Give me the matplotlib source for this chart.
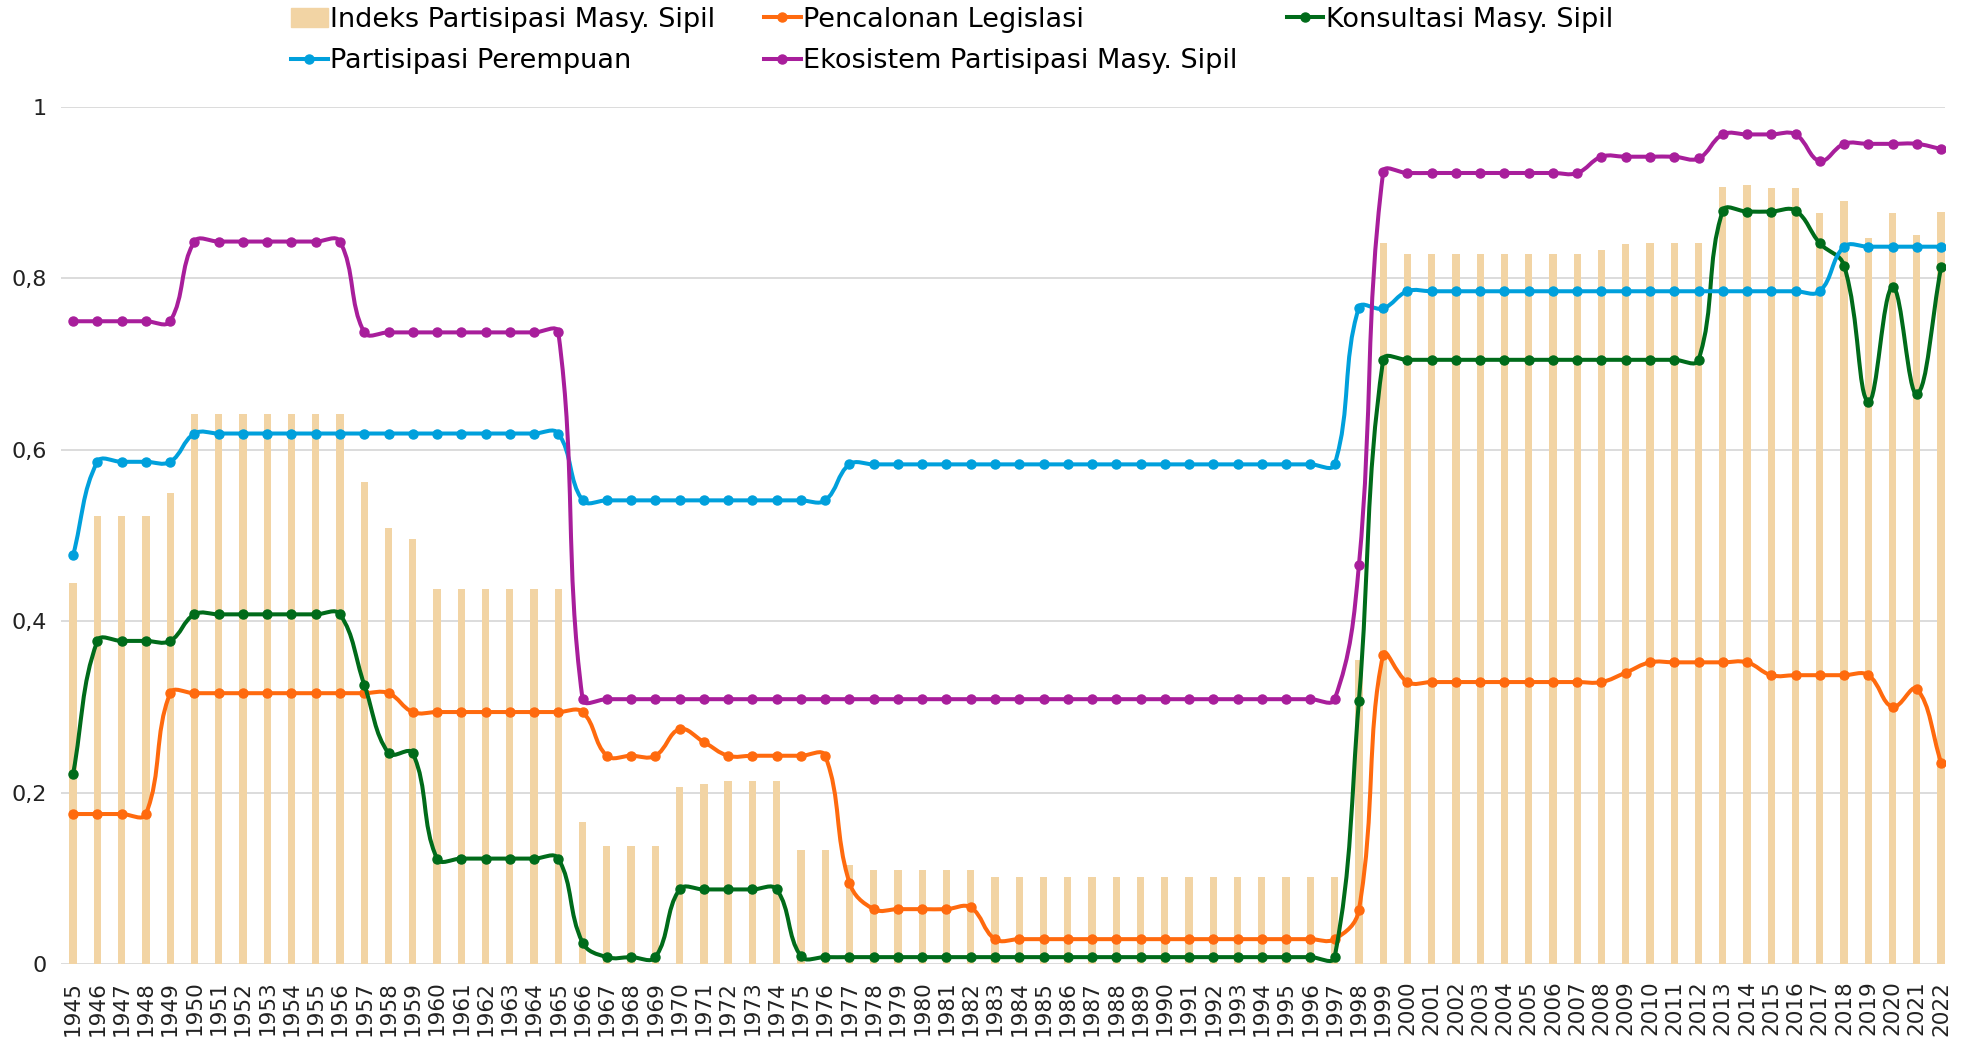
import numpy as np
import matplotlib
matplotlib.use("Agg")
import matplotlib.pyplot as plt
from matplotlib.path import Path
from matplotlib.patches import PathPatch
from matplotlib.lines import Line2D
from matplotlib.patches import Patch

years = list(range(1945, 2023))

indeks = [0.445, 0.523, 0.523, 0.523, 0.550,
          0.642, 0.642, 0.642, 0.642, 0.642, 0.642, 0.642, 0.563, 0.509, 0.496,
          0.438, 0.438, 0.438, 0.438, 0.438, 0.438, 0.166, 0.138, 0.138, 0.138,
          0.207, 0.210, 0.213, 0.213, 0.213, 0.133, 0.133, 0.116, 0.110, 0.110,
          0.110, 0.110, 0.110, 0.101, 0.101, 0.101, 0.101, 0.101, 0.101, 0.101,
          0.101, 0.101, 0.101, 0.101, 0.101, 0.101, 0.101, 0.101, 0.355, 0.841,
          0.829, 0.829, 0.829, 0.829, 0.829, 0.829, 0.829, 0.829, 0.833, 0.840,
          0.841, 0.841, 0.841, 0.907, 0.909, 0.905, 0.905, 0.876, 0.890, 0.847,
          0.876, 0.851, 0.878]

pencalonan = [0.175, 0.175, 0.175, 0.175, 0.316,
              0.316, 0.316, 0.316, 0.316, 0.316, 0.316, 0.316, 0.316, 0.316, 0.294,
              0.294, 0.294, 0.294, 0.294, 0.294, 0.294, 0.294, 0.243, 0.243, 0.243,
              0.274, 0.259, 0.243, 0.243, 0.243, 0.243, 0.243, 0.095, 0.064, 0.064,
              0.064, 0.064, 0.066, 0.029, 0.029, 0.029, 0.029, 0.029, 0.029, 0.029,
              0.029, 0.029, 0.029, 0.029, 0.029, 0.029, 0.029, 0.029, 0.063, 0.361,
              0.329, 0.329, 0.329, 0.329, 0.329, 0.329, 0.329, 0.329, 0.329, 0.340,
              0.352, 0.352, 0.352, 0.352, 0.352, 0.337, 0.337, 0.337, 0.337, 0.337,
              0.300, 0.321, 0.235]

konsultasi = [0.222, 0.377, 0.377, 0.377, 0.377,
              0.408, 0.408, 0.408, 0.408, 0.408, 0.408, 0.408, 0.326, 0.246, 0.246,
              0.123, 0.123, 0.123, 0.123, 0.123, 0.123, 0.025, 0.008, 0.008, 0.008,
              0.087, 0.087, 0.087, 0.087, 0.087, 0.009, 0.008, 0.008, 0.008, 0.008,
              0.008, 0.008, 0.008, 0.008, 0.008, 0.008, 0.008, 0.008, 0.008, 0.008,
              0.008, 0.008, 0.008, 0.008, 0.008, 0.008, 0.008, 0.008, 0.307, 0.705,
              0.705, 0.705, 0.705, 0.705, 0.705, 0.705, 0.705, 0.705, 0.705, 0.705,
              0.705, 0.705, 0.705, 0.879, 0.878, 0.878, 0.879, 0.841, 0.815, 0.656,
              0.790, 0.665, 0.813]

perempuan = [0.477, 0.586, 0.586, 0.586, 0.586,
             0.619, 0.619, 0.619, 0.619, 0.619, 0.619, 0.619, 0.619, 0.619, 0.619,
             0.619, 0.619, 0.619, 0.619, 0.619, 0.619, 0.541, 0.541, 0.541, 0.541,
             0.541, 0.541, 0.541, 0.541, 0.541, 0.541, 0.541, 0.583, 0.583, 0.583,
             0.583, 0.583, 0.583, 0.583, 0.583, 0.583, 0.583, 0.583, 0.583, 0.583,
             0.583, 0.583, 0.583, 0.583, 0.583, 0.583, 0.583, 0.583, 0.766, 0.765,
             0.785, 0.785, 0.785, 0.785, 0.785, 0.785, 0.785, 0.785, 0.785, 0.785,
             0.785, 0.785, 0.785, 0.785, 0.785, 0.785, 0.785, 0.785, 0.837, 0.837,
             0.837, 0.837, 0.837]

ekosistem = [0.750, 0.750, 0.750, 0.750, 0.750,
             0.843, 0.843, 0.843, 0.843, 0.843, 0.843, 0.843, 0.737, 0.737, 0.737,
             0.737, 0.737, 0.737, 0.737, 0.737, 0.737, 0.309, 0.309, 0.309, 0.309,
             0.309, 0.309, 0.309, 0.309, 0.309, 0.309, 0.309, 0.309, 0.309, 0.309,
             0.309, 0.309, 0.309, 0.309, 0.309, 0.309, 0.309, 0.309, 0.309, 0.309,
             0.309, 0.309, 0.309, 0.309, 0.309, 0.309, 0.309, 0.309, 0.465, 0.924,
             0.923, 0.923, 0.923, 0.923, 0.923, 0.923, 0.923, 0.923, 0.942, 0.942,
             0.942, 0.942, 0.940, 0.968, 0.968, 0.968, 0.968, 0.937, 0.957, 0.957,
             0.957, 0.957, 0.951]

yticks = [0, 0.2, 0.4, 0.6, 0.8, 1]
ytick_labels = ["0", "0,2", "0,4", "0,6", "0,8", "1"]

plt.rcParams['font.family'] = ['DejaVu Sans']

W, H = 1961, 1043
fig = plt.figure(figsize=(W / 100, H / 100), dpi=100)
ax = fig.add_axes([61 / W, 1 - 964 / H, (1945 - 61) / W, (964 - 107) / H])

x = np.arange(len(years))
xmin, xmax = -0.5, 77.16
ax.set_xlim(xmin, xmax)
ax.set_ylim(0, 1)

# pixel scale, used so the smoothing behaves like the spreadsheet curve
sx = (1945 - 61) / (xmax - xmin)
sy = 964 - 107


def smooth_path(xs, ys, f=0.4):
    p = np.column_stack([np.asarray(xs) * sx, np.asarray(ys) * sy])
    n = len(p)
    verts = [p[0]]
    codes = [Path.MOVETO]
    for i in range(n - 1):
        a = p[i - 1] if i > 0 else p[i]
        b, c = p[i], p[i + 1]
        d = p[i + 2] if i + 2 < n else p[i + 1]
        d_ab = np.hypot(*(b - a))
        d_bc = np.hypot(*(c - b))
        d_cd = np.hypot(*(d - c))
        t1 = c - a
        t2 = d - b
        w1 = d_bc / (d_ab + d_bc) if d_ab + d_bc > 0 else 0.5
        w2 = d_bc / (d_bc + d_cd) if d_bc + d_cd > 0 else 0.5
        c1 = b + t1 * f * w1
        c2 = c - t2 * f * w2
        verts += [c1, c2, c]
        codes += [Path.CURVE4] * 3
    verts = np.array(verts)
    verts[:, 0] /= sx
    verts[:, 1] /= sy
    return Path(verts, codes)


bar_color = "#F2D4A4"
ax.bar(x, indeks, width=0.3, color=bar_color, zorder=2)

series = [
    (pencalonan, "#FF6A0E", "Pencalonan Legislasi"),
    (konsultasi, "#006B1A", "Konsultasi Masy. Sipil"),
    (perempuan, "#00A0DC", "Partisipasi Perempuan"),
    (ekosistem, "#A81E9B", "Ekosistem Partisipasi Masy. Sipil"),
]
handles = {}
for k, (vals, col, name) in enumerate(series):
    ax.add_patch(PathPatch(smooth_path(x, vals), facecolor="none", edgecolor=col,
                           lw=2.9, zorder=3 + k, capstyle="round", joinstyle="round"))
    ax.plot(x, vals, "o", color=col, ms=6.5, zorder=3 + k)
    handles[name] = Line2D([], [], color=col, lw=2.9, marker="o", ms=6.5)

ax.set_yticks(yticks)
ax.set_yticklabels(ytick_labels, fontsize=16, color="#222222")
ax.set_xticks(x)
ax.set_xticklabels([str(y) for y in years], rotation=90, fontsize=15.5,
                   color="#222222", va="top")
ax.tick_params(axis="both", length=0)
ax.tick_params(axis="x", pad=12)
ax.tick_params(axis="y", pad=10)
ax.grid(axis="y", color="#D9D9D9", lw=1.3, zorder=0)
ax.set_axisbelow(True)
for s in ax.spines.values():
    s.set_visible(False)

leg_handles = [Patch(color=bar_color), handles["Partisipasi Perempuan"],
               handles["Pencalonan Legislasi"], handles["Ekosistem Partisipasi Masy. Sipil"],
               handles["Konsultasi Masy. Sipil"]]
leg_labels = ["Indeks Partisipasi Masy. Sipil", "Partisipasi Perempuan",
              "Pencalonan Legislasi", "Ekosistem Partisipasi Masy. Sipil",
              "Konsultasi Masy. Sipil"]
fig.legend(leg_handles, leg_labels, loc="upper center", bbox_to_anchor=(0.4855, 1.004),
           ncol=3, frameon=False, fontsize=19.5, handlelength=1.35, handletextpad=0.1,
           columnspacing=1.8, labelspacing=0.57, borderaxespad=0.0)

fig.savefig("out.png", dpi=100)
